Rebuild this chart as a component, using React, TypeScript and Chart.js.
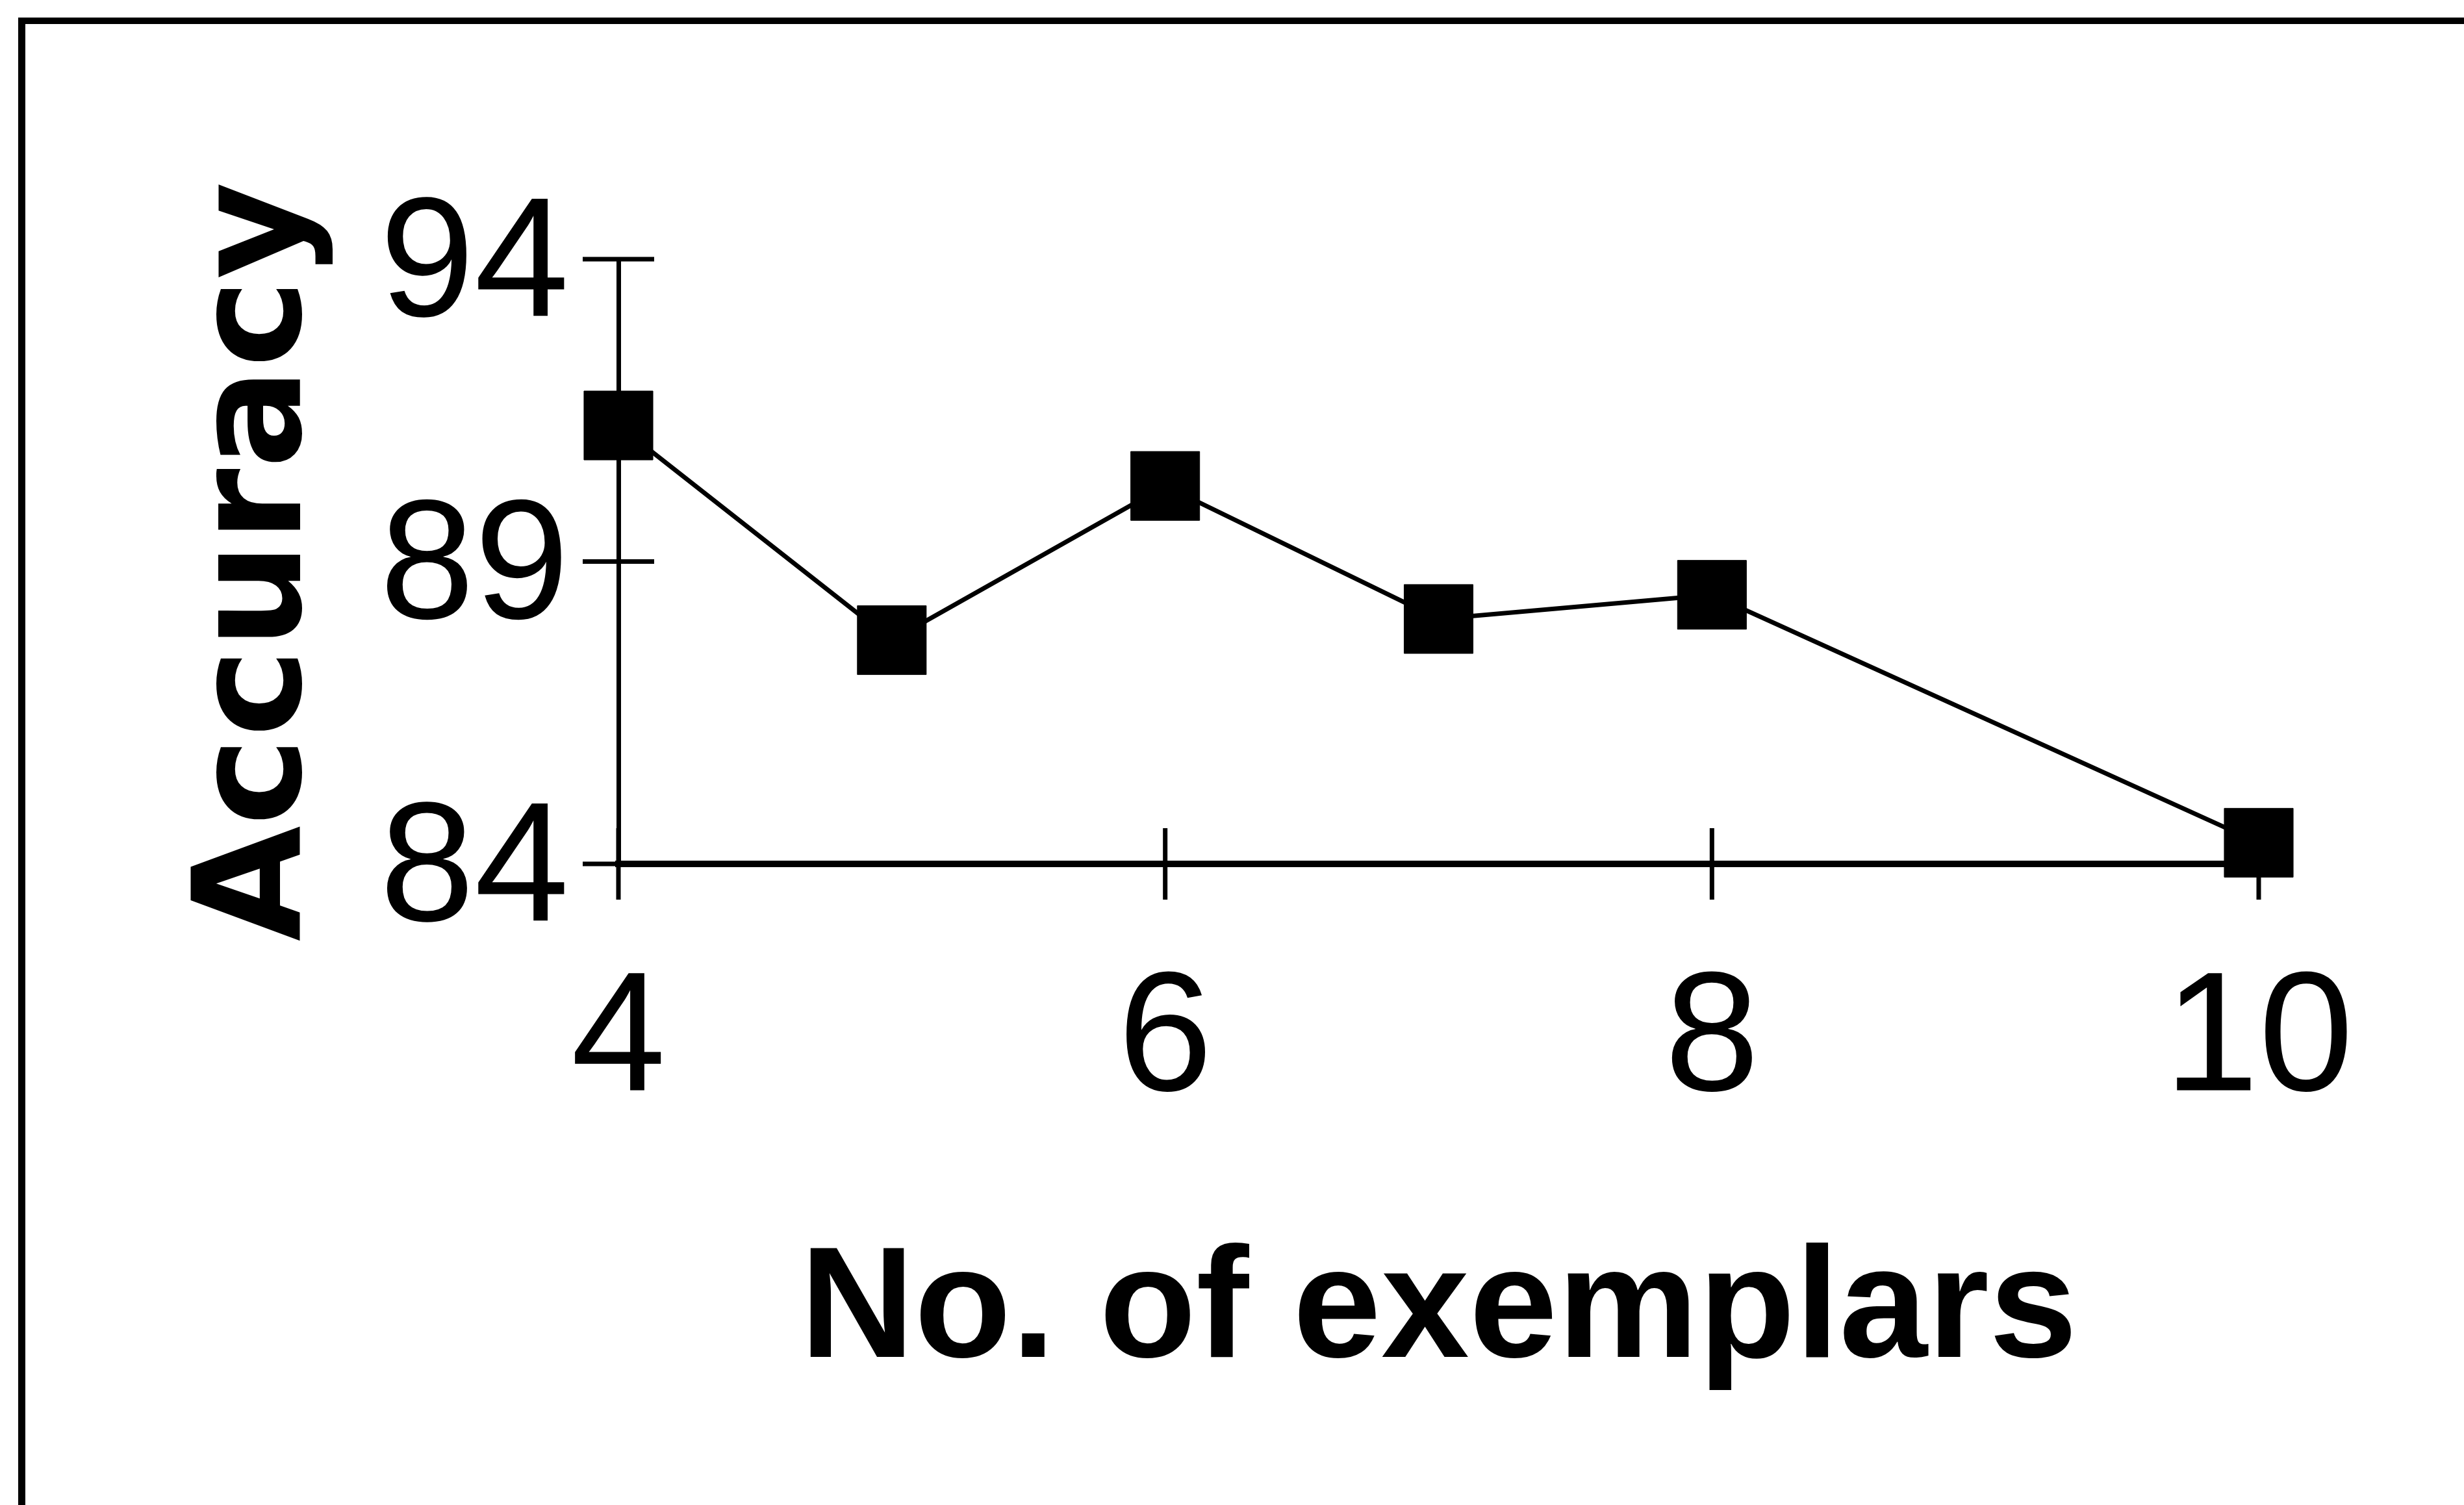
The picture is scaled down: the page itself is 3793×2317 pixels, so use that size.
import { useEffect, useRef } from 'react';
import { Chart, registerables } from 'chart.js';

Chart.register(...registerables);

// Number of exemplars and the accuracy reached with each
const exemplars = [4, 5, 6, 7, 8, 10];
const accuracy = [91.25, 87.7, 90.25, 88.05, 88.45, 84.35];

// Axis ticks
const xTicks = [4, 6, 8, 10];
const yTicks = [84, 89, 94];

const xTitle = 'No. of exemplars';
const yTitle = 'Accuracy';

const W = 3793;
const H = 2317;

const tickFont = '"Liberation Sans Narrow", "Liberation Sans", Arial, sans-serif';
const TICK_HALF = 55;

// Tick marks that cross the axis line on both sides
const crossTicks = {
  id: 'crossTicks',
  beforeDatasetsDraw(chart: any) {
    const { ctx, chartArea, scales } = chart;
    const xs = scales.x;
    const ys = scales.y;
    ctx.save();
    ctx.strokeStyle = '#000';
    ctx.lineWidth = 7;
    ctx.lineCap = 'butt';
    ys.ticks.forEach((t: any) => {
      const py = ys.getPixelForValue(t.value);
      ctx.beginPath();
      ctx.moveTo(chartArea.left - TICK_HALF, py);
      ctx.lineTo(chartArea.left + TICK_HALF, py);
      ctx.stroke();
    });
    xs.ticks.forEach((t: any) => {
      const px = xs.getPixelForValue(t.value);
      ctx.beginPath();
      ctx.moveTo(px, chartArea.bottom - TICK_HALF);
      ctx.lineTo(px, chartArea.bottom + TICK_HALF);
      ctx.stroke();
    });
    ctx.restore();
  },
};

export default function App() {
  const ref = useRef<HTMLCanvasElement>(null);

  useEffect(() => {
    const canvas = ref.current;
    if (!canvas) return;
    const chart = new Chart(canvas, {
      type: 'line',
      data: {
        datasets: [
          {
            data: exemplars.map((x, i) => ({ x, y: accuracy[i] })),
            borderColor: '#000',
            borderWidth: 7,
            pointStyle: 'rect',
            pointRadius: 75,
            pointBackgroundColor: '#000',
            pointBorderColor: '#000',
            pointBorderWidth: 1,
            tension: 0,
            fill: false,
            clip: false,
          } as any,
        ],
      },
      options: {
        animation: false,
        responsive: false,
        devicePixelRatio: 1,
        events: [],
        layout: { padding: { left: 264, top: 399, right: 316, bottom: 149 } },
        plugins: {
          legend: { display: false },
          tooltip: { enabled: false },
        },
        scales: {
          x: {
            type: 'linear',
            min: 4,
            max: 10,
            afterBuildTicks: (s: any) => {
              s.ticks = xTicks.map((v) => ({ value: v }));
            },
            afterFit: (s: any) => {
              s.height = 838;
            },
            grid: { display: false, drawTicks: false },
            border: { display: true, color: '#000', width: 10 },
            ticks: {
              color: '#000',
              padding: 119,
              maxRotation: 0,
              autoSkip: false,
              font: { family: tickFont, size: 262 },
            },
            title: {
              display: true,
              text: xTitle,
              color: '#000',
              padding: 0,
              font: { family: '"Liberation Sans", Arial, sans-serif', size: 244, weight: 'bold' },
            },
          },
          y: {
            type: 'linear',
            min: 84,
            max: 94,
            afterBuildTicks: (s: any) => {
              s.ticks = yTicks.map((v) => ({ value: v }));
            },
            afterFit: (s: any) => {
              s.width = 688;
            },
            grid: { display: false, drawTicks: false },
            border: { display: true, color: '#000', width: 7 },
            ticks: {
              color: '#000',
              padding: 76,
              labelOffset: 15,
              autoSkip: false,
              font: { family: tickFont, size: 262 },
            },
            title: {
              display: true,
              text: yTitle,
              color: '#000',
              padding: 0,
              font: { family: '"DejaVu Sans", sans-serif', size: 230, weight: 'bold' },
            },
          },
        },
      },
      plugins: [crossTicks],
    });
    return () => chart.destroy();
  }, []);

  return (
    <div
      style={{
        position: 'fixed',
        left: 0,
        top: 0,
        width: W,
        height: H,
        overflow: 'hidden',
        background: '#fff',
      }}
    >
      <canvas
        ref={ref}
        width={W}
        height={H}
        style={{ position: 'absolute', left: 0, top: 0, width: W, height: H }}
      />
      <div
        style={{
          position: 'absolute',
          left: 28,
          top: 27,
          width: W + 200,
          height: H + 200,
          borderTop: '10px solid #000',
          borderLeft: '11px solid #000',
          pointerEvents: 'none',
        }}
      />
    </div>
  );
}
